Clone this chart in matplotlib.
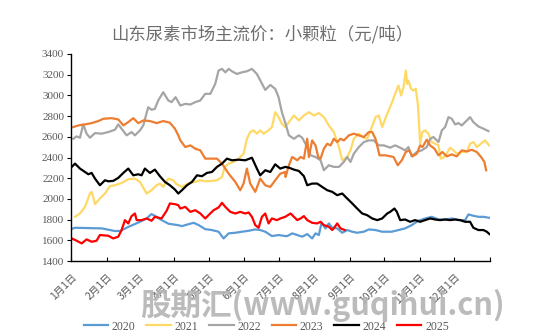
import matplotlib

matplotlib.use("Agg")
import matplotlib.pyplot as plt

plt.rcParams["font.family"] = ["Noto Sans CJK SC", "DejaVu Sans"]

TITLE = "山东尿素市场主流价：小颗粒（元/吨）"
MONTH_DAYS = [0, 31, 59, 90, 120, 151, 181, 212, 243, 273, 304, 334, 365]
MONTH_LABELS = [f"{m}月1日" for m in range(1, 13)]

# day of year, price (yuan/ton)
D2020 = [0, 3.5, 27, 38, 43, 50, 59, 66, 70, 73, 79, 85, 93, 96.7, 102.5, 106.9,
         111.2, 117, 122.8, 128.6, 133, 137.4, 143.2, 149, 154.8, 160.6, 165,
         169.3, 175.1, 180.9, 186.7, 188.5, 192.8, 197.2, 201.5, 205.9, 210.2,
         213.1, 216, 218.4, 221.8, 224.7, 227.7, 232, 236.4, 240.7, 245.1, 249.4,
         255.2, 259.6, 265.4, 271.2, 275.6, 279.6, 285.4, 291.2, 297, 302.8,
         308.6, 314.5, 320.3, 326.1, 331.9, 337.7, 343.5, 346.4, 350.7, 355.1,
         359.5, 364.7]
P2020 = [1708, 1721, 1715, 1690, 1690, 1730, 1773, 1811, 1853, 1837, 1795, 1760,
         1747, 1737, 1756, 1769, 1747, 1708, 1699, 1683, 1618, 1667, 1673, 1683,
         1692, 1705, 1699, 1683, 1641, 1651, 1641, 1641, 1667, 1651, 1635, 1660,
         1618, 1667, 1651, 1769, 1715, 1763, 1721, 1715, 1673, 1699, 1683, 1673,
         1683, 1705, 1699, 1683, 1683, 1683, 1699, 1715, 1747, 1789, 1811, 1827,
         1801, 1801, 1811, 1795, 1795, 1850, 1837, 1827, 1827, 1817]

D2021 = [3.5, 7.8, 12.2, 16.5, 18, 20.9, 25.2, 29.6, 33.9, 38.3, 44.1, 49.9, 55.7,
         60.1, 65.9, 70.2, 74.6, 77.5, 80.4, 84.8, 89.1, 92, 96.7, 102.5, 108.3,
         112.7, 117, 122.8, 127.2, 131.6, 133.9, 137.4, 141.7, 146.1, 150.4,
         153.3, 156.2, 159.1, 162, 164.9, 167.8, 172.2, 175.1, 178, 180.9, 183.8,
         186.7, 189.9, 194.3, 198.6, 203, 207.3, 211.7, 216, 220.4, 224.7, 229.1,
         233.5, 236.4, 240.7, 243.6, 246.5, 250.9, 255.2, 258.1, 261.1, 265.4,
         268.3, 271.2, 275.6, 279.9, 282.5, 285.4, 287.7, 289.8, 291.8, 293,
         294.1, 296.4, 298.5, 300.5, 302.3, 304.3, 306.3, 308.6, 311.5, 314.5,
         317.4, 320.3, 322.3, 324.6, 327.5, 330.4, 333.3, 336.2, 340.6, 345,
         347.8, 350.7, 353.7, 358, 360.9, 364.4]
P2021 = [1827, 1859, 1923, 2052, 2068, 1949, 2004, 2052, 2122, 2132, 2154, 2190,
         2196, 2164, 2052, 2084, 2132, 2148, 2116, 2196, 2180, 2142, 2116, 2154,
         2164, 2180, 2170, 2174, 2180, 2212, 2309, 2341, 2357, 2389, 2437, 2581,
         2646, 2662, 2630, 2662, 2630, 2662, 2694, 2838, 2790, 2726, 2694, 2742,
         2806, 2758, 2806, 2838, 2806, 2829, 2790, 2710, 2646, 2501, 2373, 2405,
         2469, 2581, 2630, 2591, 2581, 2662, 2790, 2806, 2694, 2822, 2935, 3015,
         3095, 2999, 3079, 3240, 3111, 3143, 3063, 3047, 3063, 2918, 2533, 2646,
         2662, 2630, 2549, 2533, 2517, 2389, 2399, 2437, 2495, 2469, 2437, 2453,
         2453, 2533, 2549, 2501, 2540, 2565, 2517]

D2022 = [2, 4.9, 7.8, 10.7, 13.6, 16.5, 20.9, 26.7, 32.5, 38.3, 41.2, 44.1, 48.5,
         52.8, 55.7, 60.1, 63, 67.3, 70.2, 73.1, 76, 80.4, 84.8, 87.7, 91.1, 95.3,
         99.6, 104, 108.3, 112.7, 117, 121.4, 125.7, 128.6, 131.6, 134.5, 137.4,
         140.3, 144.6, 149, 153.3, 157.7, 162, 165.8, 169.3, 173.7, 178, 180.9,
         183.8, 187, 189.9, 194.3, 198.6, 201.5, 205.9, 208.8, 213.1, 217.5,
         220.4, 224.7, 229.1, 233.5, 237.8, 240.7, 243.6, 246.5, 250.9, 255.2,
         259.6, 264, 268.3, 272.7, 278.2, 282.5, 286.9, 291.2, 294.1, 297, 301.4,
         305.7, 310.1, 313, 315.9, 320.3, 323.2, 326.1, 329, 331.9, 334.8, 337.7,
         340.6, 345, 347.8, 350.7, 355.1, 359.5, 363.8]
P2022 = [2581, 2604, 2591, 2720, 2630, 2591, 2636, 2630, 2646, 2668, 2720, 2678,
         2614, 2646, 2614, 2662, 2710, 2886, 2861, 2870, 2951, 3031, 2951, 2935,
         2983, 2902, 2918, 2912, 2935, 2951, 3015, 3015, 3111, 3240, 3256, 3223,
         3256, 3233, 3207, 3223, 3233, 3256, 3207, 3127, 3053, 3101, 3063, 2983,
         2838, 2726, 2614, 2581, 2614, 2591, 2501, 2421, 2405, 2373, 2277, 2325,
         2309, 2309, 2357, 2405, 2357, 2437, 2501, 2549, 2565, 2565, 2517, 2517,
         2495, 2517, 2495, 2469, 2501, 2411, 2453, 2469, 2501, 2581, 2598, 2549,
         2662, 2694, 2790, 2774, 2720, 2732, 2710, 2758, 2790, 2742, 2700, 2678,
         2655]

D2023 = [2, 6.4, 12.2, 18, 23.8, 28.1, 35.4, 41.2, 45.6, 49.9, 54.3, 58.6, 63,
         68.8, 74.6, 80.4, 86.2, 90.6, 93.5, 95.3, 99.6, 104, 108.3, 112.7, 117,
         121.4, 127.2, 131.6, 137.4, 143.2, 147.5, 150.4, 153.3, 156.2, 160.6,
         164.9, 169.3, 173.7, 178, 182.4, 186.7, 187, 189.9, 192.8, 197.2, 200.1,
         203, 205.9, 207.3, 210.2, 213.1, 215.5, 217.5, 220.4, 223.3, 226.2,
         229.1, 232, 234.9, 237.8, 242.2, 246.5, 250.9, 255.2, 259.6, 262.5,
         265.4, 268.9, 274.1, 281.1, 284.8, 288.3, 291.8, 294.7, 297.6, 301.4,
         304.3, 306.3, 310.1, 313, 316.8, 320.3, 323.7, 327.5, 331.9, 336.2,
         340.6, 345, 349.3, 353.7, 357.4, 360.3, 361.8]
P2023 = [2694, 2710, 2720, 2732, 2752, 2774, 2780, 2768, 2710, 2742, 2780, 2732,
         2758, 2752, 2732, 2752, 2736, 2678, 2614, 2565, 2501, 2517, 2485, 2469,
         2389, 2389, 2389, 2341, 2244, 2164, 2084, 2148, 2293, 2148, 2068, 2196,
         2132, 2116, 2180, 2244, 2260, 2212, 2325, 2405, 2373, 2405, 2389, 2581,
         2405, 2565, 2517, 2405, 2389, 2485, 2533, 2517, 2581, 2549, 2581, 2565,
         2614, 2630, 2614, 2598, 2646, 2646, 2581, 2421, 2421, 2405, 2325, 2373,
         2453, 2469, 2411, 2437, 2517, 2501, 2572, 2517, 2485, 2421, 2453, 2411,
         2430, 2411, 2469, 2459, 2475, 2453, 2405, 2357, 2277]

D2024 = [0.6, 3.5, 7.8, 12.2, 15.1, 18, 20.9, 25.2, 29.6, 32.5, 36.8, 41.2, 45.6,
         49.9, 54.3, 58.6, 61.5, 64.4, 68.8, 73.1, 77.5, 81.9, 86.2, 90.6, 93.5,
         96.7, 101.1, 105.4, 109.8, 114.1, 118.5, 122.8, 127.2, 131.6, 135.9,
         140.3, 146.1, 151.9, 157.7, 162, 164.9, 169.3, 173.7, 178, 182.4, 186.7,
         189.9, 194.3, 198.6, 203, 205.9, 210.2, 214.6, 218.9, 223.3, 227.7, 232,
         236.4, 240.7, 245.1, 249.4, 253.8, 258.1, 262.5, 266.9, 271.2, 275.6,
         278.2, 281.9, 284, 286.9, 291.2, 295.6, 299.9, 304.3, 308.6, 313, 317.4,
         321.7, 326.1, 330.4, 334.8, 339.1, 343.5, 347.8, 350.7, 355.1, 359.5,
         362.4, 364.7]
P2024 = [2309, 2341, 2293, 2260, 2238, 2251, 2196, 2132, 2180, 2170, 2174, 2203,
         2251, 2293, 2228, 2238, 2228, 2293, 2251, 2283, 2219, 2164, 2132, 2090,
         2052, 2084, 2132, 2164, 2228, 2219, 2251, 2260, 2309, 2341, 2389, 2373,
         2379, 2373, 2398, 2293, 2228, 2277, 2260, 2334, 2293, 2309, 2302, 2283,
         2270, 2219, 2132, 2148, 2148, 2116, 2084, 2068, 2036, 2052, 2004, 1956,
         1907, 1859, 1843, 1811, 1795, 1811, 1859, 1875, 1907, 1875, 1795, 1801,
         1779, 1795, 1779, 1795, 1811, 1801, 1795, 1801, 1795, 1801, 1795, 1779,
         1779, 1721, 1699, 1699, 1683, 1660]

D2025 = [0.6, 4.9, 9.3, 13.6, 18, 22.3, 25.2, 32.5, 36.8, 41.2, 44.1, 47, 49.9,
         52.8, 55.7, 57.2, 61.5, 65.9, 70.2, 73.1, 78.9, 83.3, 86.2, 90.6, 93.5,
         95.3, 99.6, 104, 108.3, 112.7, 117, 119.9, 124.3, 128.6, 131.6, 134.5,
         138.8, 143.2, 147.5, 151.9, 154.8, 157.7, 160.6, 163.5, 166.4, 169.3,
         172.2, 175.1, 179.5, 182.4, 186.7, 191.4, 194.3, 197.2, 200.1, 203,
         205.9, 210.2, 214.6, 217.5, 220.4, 224.7, 227.7, 230, 232, 234.9, 238.7]
P2025 = [1618, 1596, 1570, 1609, 1586, 1596, 1651, 1644, 1618, 1635, 1699, 1795,
         1763, 1834, 1859, 1795, 1795, 1811, 1789, 1827, 1811, 1885, 1956, 1949,
         1940, 1907, 1923, 1875, 1891, 1859, 1811, 1843, 1891, 1917, 1962, 1923,
         1875, 1859, 1875, 1859, 1869, 1827, 1747, 1721, 1827, 1859, 1763, 1811,
         1795, 1811, 1827, 1859, 1827, 1795, 1811, 1834, 1795, 1769, 1763, 1779,
         1747, 1731, 1699, 1731, 1763, 1715, 1699]

SERIES = [
    ("2020", D2020, P2020, "#5b9bd5"),
    ("2021", D2021, P2021, "#ffd966"),
    ("2022", D2022, P2022, "#a5a5a5"),
    ("2023", D2023, P2023, "#ed7d31"),
    ("2024", D2024, P2024, "#000000"),
    ("2025", D2025, P2025, "#ff0000"),
]

TEXT_GREY = "#595959"

fig = plt.figure(figsize=(5.4, 3.36), dpi=100)
ax = fig.add_axes([0.1315, 0.2232, 0.7755, 0.6161])

for name, days, prices, color in SERIES:
    ax.plot(days, prices, color=color, lw=1.6, label=name)

ax.set_xlim(0, 365)
ax.set_ylim(1400, 3400)
ax.set_yticks(range(1400, 3401, 200))
ax.set_xticks(MONTH_DAYS)
ax.set_xticklabels(MONTH_LABELS + [""], rotation=45, ha="right", va="top",
                   rotation_mode="anchor", fontsize=7.5, color=TEXT_GREY)
for lab in ax.get_yticklabels():
    lab.set_family("Liberation Serif")
    lab.set_fontsize(8)
    lab.set_color(TEXT_GREY)

ax.tick_params(axis="x", direction="in", length=3, width=0.8, pad=8)
ax.tick_params(axis="y", direction="out", length=3, width=0.8, pad=2)
for side in ("top", "right"):
    ax.spines[side].set_visible(False)
for side in ("left", "bottom"):
    ax.spines[side].set_linewidth(1.0)
    ax.spines[side].set_color("#000000")

fig.text(0.486, 0.898, TITLE, ha="center", va="center", fontsize=12.5,
         color="#6e6e6e")

leg = fig.legend(loc="center", bbox_to_anchor=(0.493, 0.028), ncol=6,
                 frameon=False, handlelength=2.1, handletextpad=0.3,
                 columnspacing=0.9, prop={"family": "Liberation Serif", "size": 8.5})
for t in leg.get_texts():
    t.set_color(TEXT_GREY)

# site watermark
fig.text(0.597, 0.092, "股期汇(www.guqihui.cn)", ha="center", va="center",
         fontsize=22, fontweight="bold", style="italic", color="#b4b4b4",
         alpha=0.9, family=["Noto Sans CJK SC", "DejaVu Sans"], zorder=10)

fig.savefig("out.png", dpi=100)
plt.close(fig)
